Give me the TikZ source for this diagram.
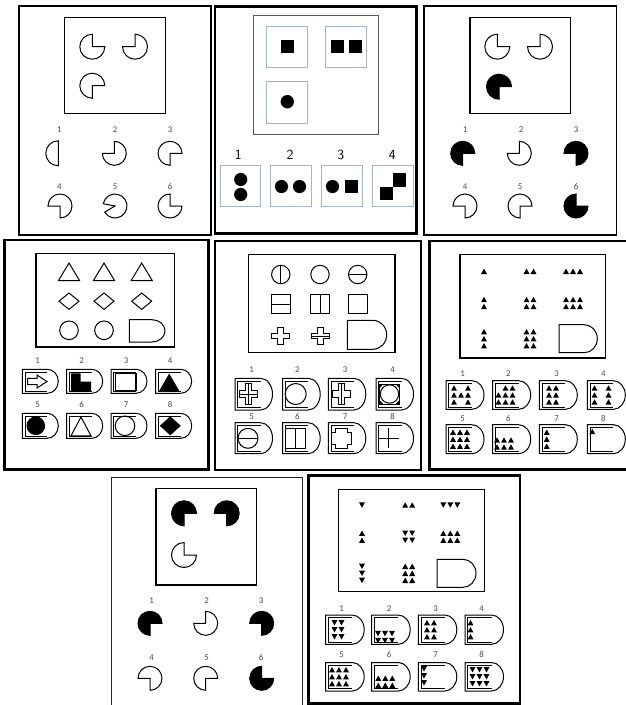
\documentclass[tikz,border=0pt]{standalone}
\usepackage{fontspec}
\setmainfont{Carlito}
\usetikzlibrary{calc}
\definecolor{numgray}{RGB}{80,72,64}
\definecolor{boxblue}{RGB}{160,180,205}
\tikzset{
 panelthin/.style={draw=black, line width=1.5pt},
 panelthick/.style={draw=black, line width=2.7pt},
 matbox/.style={draw=black, line width=1.3pt},
 shp/.style={draw=black, line width=1pt, line join=miter},
 num/.style={font=\fontsize{8.8}{10}\selectfont, text=numgray, inner sep=0pt},
 bignum/.style={font=\fontsize{14}{16}\selectfont\sffamily, inner sep=0pt},
 bluebox/.style={draw=boxblue, line width=0.9pt},
}
% quarter-missing circle: x y r startangle fill
\newcommand\pq[5]{\filldraw[shp,fill=#5] (#1,-#2) -- ++(#4:#3) arc[start angle=#4, delta angle=270, radius=#3] -- cycle;}
% D shape: x1 y1 x2 y2 rx
\newcommand\Dsh[5]{\draw[shp] (#1,-#2) -- ({#3-#5},-#2) arc[start angle=90, end angle=-90, x radius=#5, y radius={(#4-#2)/2}] -- (#1,-#4) -- cycle;}
\newcommand\Dans[5]{\Dsh{#1}{#2}{#3}{#4}{#5}
 \draw[line width=0.6pt] ({#3-#5},{-#2-2.5}) -- ({#1+2.5},{-#2-2.5}) -- ({#1+2.5},{-#4+2.5}) -- ({#3-#5},{-#4+2.5});}
% small triangle: x y dir
\newcommand\tri[3]{\fill ({(#1)-3},{-(#2)-2.7*(#3)}) -- ({(#1)+3},{-(#2)-2.7*(#3)}) -- ({#1},{-(#2)+2.7*(#3)}) -- cycle;}
\newcommand\tgrid[5]{\foreach \ii in {1,...,#3}{\foreach \jj in {1,...,#4}{\tri{#1+(\ii-(#3+1)/2)*7}{#2+(\jj-(#4+1)/2)*7}{#5}}}}
\newcommand\bsq[3]{\fill ({(#1)-(#3)/2},{-(#2)+(#3)/2}) rectangle ({(#1)+(#3)/2},{-(#2)-(#3)/2});}
\newcommand\osq[3]{\draw[shp] ({(#1)-(#3)/2},{-(#2)+(#3)/2}) rectangle ({(#1)+(#3)/2},{-(#2)-(#3)/2});}
\newcommand\crossO[4]{\begin{scope}[shift={(#1,-#2)}]\draw[shp] ({-#3/3},{-#4}) -- ({#3/3},{-#4}) -- ({#3/3},{-#4/3}) -- (#3,{-#4/3}) -- (#3,{#4/3}) -- ({#3/3},{#4/3}) -- ({#3/3},#4) -- ({-#3/3},#4) -- ({-#3/3},{#4/3}) -- (-#3,{#4/3}) -- (-#3,{-#4/3}) -- ({-#3/3},{-#4/3}) -- cycle;\end{scope}}
\begin{document}
\begin{tikzpicture}[x=1pt,y=1pt]
\useasboundingbox (0,0) rectangle (626,-705);
\fill[white] (0,0) rectangle (626,-705);

% ================= Panel 1
\draw[panelthin] (19,-6) rectangle (211,-235);
\draw[matbox] (64.3,-17.3) rectangle (165.7,-113.3);
\pq{92.3}{46.7}{12.5}{90}{white}
\pq{135}{46.7}{12.5}{180}{white}
\pq{92.3}{85.7}{12.5}{0}{white}
\foreach \t/\x/\y in {1/59.3/130,2/115/130,3/170/130,4/59.3/186.7,5/115/186.7,6/170/186.7}
  \node[num] (p1n\t) at (\x,-\y) {\t};
\draw[shp] (58.3,-140.8) arc[start angle=90, end angle=270, radius=12.5] -- cycle;
\pq{114.3}{153.3}{12}{180}{white}
\pq{170}{153.3}{12}{0}{white}
\pq{60}{206}{12}{270}{white}
\filldraw[shp,fill=white] (115,-206) -- ++(211:12) arc[start angle=211, delta angle=318, radius=12] -- cycle;
\pq{170}{206}{12}{90}{white}

% ================= Panel 2
\draw[panelthick] (215,-6.2) rectangle (416.7,-233.7);
\draw[draw=black!65, line width=1pt] (253.3,-15) rectangle (378.3,-134.3);
\draw[bluebox] (266.7,-26) rectangle (307.7,-67.7);
\draw[bluebox] (325,-26) rectangle (366.7,-67.7);
\draw[bluebox] (266.7,-81.7) rectangle (307.7,-123.3);
\bsq{287.3}{46.7}{13}
\bsq{337.7}{46.7}{13}
\bsq{355.7}{46.7}{13}
\fill (287.3,-101.7) circle[radius=6.7];
\foreach \t/\x in {1/238.3,2/290,3/340.7,4/392.3}
  \node[bignum] (p2n\t) at (\x,-155) {\t};
\draw[bluebox] (220,-165.7) rectangle (260.7,-206.7);
\draw[bluebox] (270.7,-165.7) rectangle (311.7,-206.7);
\draw[bluebox] (321.7,-165.7) rectangle (362.7,-206.7);
\draw[bluebox] (372.7,-165.7) rectangle (413.3,-206.7);
\fill (240.7,-179.5) circle[radius=6.6];
\fill (240.7,-194.5) circle[radius=6.6];
\fill (281.5,-186.5) circle[radius=6.6];
\fill (299.5,-186.5) circle[radius=6.6];
\fill (332.5,-186.5) circle[radius=6.6];
\bsq{351.7}{186.5}{13}
\bsq{399.7}{180}{13.4}
\bsq{386.3}{193.4}{13.4}

% ================= Panel 3
\draw[panelthin] (424,-6) rectangle (616.7,-235);
\draw[matbox] (470,-17.3) rectangle (570.7,-113.3);
\pq{497.3}{46.7}{12.5}{90}{white}
\pq{540}{46.7}{12.5}{180}{white}
\pq{499}{86.7}{12.5}{0}{black}
\foreach \t/\x/\y in {1/465.3/130,2/521/130,3/576/130,4/465/186.7,5/520/186.7,6/576/186.7}
  \node[num] (p3n\t) at (\x,-\y) {\t};
\pq{462.7}{153.3}{12}{0}{black}
\pq{519.3}{153.3}{12}{180}{white}
\pq{576}{153.3}{12}{270}{black}
\pq{465}{206}{12}{270}{white}
\pq{520}{206}{12}{0}{white}
\pq{576}{206}{12}{90}{black}

% ================= Panel 4
\draw[panelthick] (4.7,-240) rectangle (208.7,-469.3);
\draw[matbox] (36,-253.7) rectangle (174.3,-347);
\foreach \x in {69,104,141.7}{
  \draw[shp] ({\x-10.5},-280.5) -- ({\x+10.5},-280.5) -- (\x,-263) -- cycle;
  \draw[shp] ({\x-10},-301.2) -- (\x,-293) -- ({\x+10},-301.2) -- (\x,-309.4) -- cycle;}
\draw[shp] (69,-330.3) circle[radius=9.3];
\draw[shp] (104,-330.3) circle[radius=9.3];
\Dsh{129.3}{319.7}{165}{342}{13}
\foreach \t/\x/\y in {1/37.7/361,2/81.7/361,3/126/361,4/170/361,5/37.7/405,6/81.7/405,7/126/405,8/170/405}
  \node[num] (p4n\t) at (\x,-\y) {\t};
\foreach \x in {22.3,66.7,111,155.7}{
  \Dans{\x}{369.3}{\x+36}{393.3}{11}
  \Dans{\x}{413.3}{\x+36}{438.3}{11}}
\draw[shp] (27.5,-378.3) -- (37,-378.3) -- (37,-375) -- (47,-381.5) -- (37,-388) -- (37,-384.7) -- (27.5,-384.7) -- cycle;
\fill (71,-373.3) -- (80.5,-373.3) -- (80.5,-381.7) -- (91,-381.7) -- (91,-391.3) -- (71,-391.3) -- cycle;
\draw[shp, line width=1.2pt] (115.5,-373.8) rectangle (136,-390.8);
\fill (159,-391.3) -- (179.5,-391.3) -- (169.2,-373.5) -- cycle;
\fill (35.8,-425.8) circle[radius=9.3];
\draw[shp] (71,-435.8) -- (91,-435.8) -- (81,-417) -- cycle;
\draw[shp] (125,-425.8) circle[radius=9.8];
\fill (170.3,-416.3) -- (180.8,-425.8) -- (170.3,-435.3) -- (159.8,-425.8) -- cycle;

% ================= Panel 5
\draw[panelthick, line width=2.4pt] (214.7,-240.7) rectangle (420.7,-470);
\draw[matbox] (248.3,-254.7) rectangle (395,-352.7);
\draw[shp] (280.8,-274.5) circle[radius=9.2];
\draw[shp] (280.8,-265.3) -- (280.8,-283.7);
\draw[shp] (320,-274.5) circle[radius=9.2];
\draw[shp] (357.7,-274.5) circle[radius=9.2];
\draw[shp] (348.5,-274.5) -- (366.9,-274.5);
\osq{280.8}{304.2}{18.7}
\draw[shp] (271.45,-304.2) -- (290.15,-304.2);
\osq{320}{304.2}{18.7}
\draw[shp] (320,-294.85) -- (320,-313.55);
\osq{357.7}{304.2}{18.7}
\crossO{280.8}{336}{9}{8.5}
\crossO{320}{336}{9}{8.5}
\draw[shp] (311,-336) -- (329,-336);
\Dsh{347.3}{320.3}{386.7}{349.3}{14}
\foreach \t/\x/\y in {1/251.7/369.3,2/297.3/369.3,3/345/369.3,4/392.7/369.3,5/251.7/416.3,6/297.3/416.3,7/345/416.3,8/392.7/416.3}
  \node[num] (p5n\t) at (\x,-\y) {\t};
\foreach \x in {235,282.7,328.3,376}{
  \Dans{\x}{378.3}{\x+37.5}{410}{12}
  \Dans{\x}{422.7}{\x+37.5}{453.7}{12}}
\crossO{248}{394}{9}{10.5}
\draw[shp] (248,-383.5) -- (248,-404.5);
\draw[shp] (239,-394) -- (257,-394);
\draw[shp] (295.7,-394) circle[radius=10.5];
\crossO{341.3}{394}{9}{10.5}
\draw[shp] (341.3,-383.5) -- (341.3,-404.5);
\osq{389.5}{394}{20}
\draw[shp] (389.5,-394) circle[radius=9.2];
\fill (379.5,-384) -- (383.5,-384) -- (379.5,-388) -- cycle;
\fill (399.5,-384) -- (395.5,-384) -- (399.5,-388) -- cycle;
\fill (379.5,-404) -- (383.5,-404) -- (379.5,-400) -- cycle;
\fill (399.5,-404) -- (395.5,-404) -- (399.5,-400) -- cycle;
\draw[shp] (248,-438.3) circle[radius=10];
\draw[shp] (238,-438.3) -- (258,-438.3);
\osq{295.5}{438.3}{20}
\draw[shp] (295.5,-428.3) -- (295.5,-448.3);
\begin{scope}[shift={(341.7,-438.3)}]
\draw[shp] (-6,10) -- (6,10) -- (6,6) -- (10,6) -- (10,-6) -- (6,-6) -- (6,-10) -- (-6,-10) -- (-6,-6) -- (-10,-6) -- (-10,6) -- (-6,6) -- cycle;
\end{scope}
\draw[shp] (378.5,-438.3) -- (398.5,-438.3);
\draw[shp] (388.5,-428.3) -- (388.5,-448.3);

% ================= Panel 6
\draw[panelthick, line width=2.4pt] (429.3,-240.7) rectangle (628,-469.3);
\draw[matbox] (460,-254.7) rectangle (605.7,-358);
\tgrid{484}{271.3}{1}{1}{1}
\tgrid{530}{271.3}{2}{1}{1}
\tgrid{573}{271.3}{3}{1}{1}
\tgrid{484}{303}{1}{2}{1}
\tgrid{530}{303}{2}{2}{1}
\tgrid{573}{303}{3}{2}{1}
\tgrid{484}{338.7}{1}{3}{1}
\tgrid{530}{338.7}{2}{3}{1}
\Dsh{559}{324.7}{597.3}{352.7}{13}
\foreach \t/\x/\y in {1/462.7/373.3,2/508.3/373.3,3/556.7/373.3,4/603.3/373.3,5/462.7/418.7,6/508.3/418.7,7/556.7/418.7,8/603.3/418.7}
  \node[num] (p6n\t) at (\x,-\y) {\t};
\foreach \x in {446,492.7,539.3,587.3}{
  \Dans{\x}{380.7}{\x+38}{409.3}{12}
  \Dans{\x}{424.7}{\x+38}{453.7}{12}}
\foreach \a/\b in {454/388,468/388,454/395,461/395,468/395,454/402,468/402} {\tri{\a}{\b}{1}}
\foreach \a/\b in {505.5/388,512.5/388,498.5/395,505.5/395,512.5/395,498.5/402,505.5/402,512.5/402} {\tri{\a}{\b}{1}}
\tgrid{552.5}{395}{2}{3}{1}
\tgrid{594.5}{395}{1}{3}{1}
\tgrid{608.5}{395}{1}{3}{1}
\tgrid{460}{439.2}{3}{3}{1}
\tgrid{504}{443.5}{3}{2}{1}
\tgrid{546.7}{439.2}{1}{3}{1}
\tri{592.3}{431.5}{1}

% ================= Panel 7
\draw[draw=black!85, line width=1.3pt] (111.2,-477.8) rectangle (302.8,-708);
\draw[matbox] (156,-488.3) rectangle (256.7,-585);
\pq{184}{513.3}{12.5}{0}{black}
\pq{226.7}{513.3}{12.5}{270}{black}
\pq{184}{555}{12.5}{90}{white}
\foreach \t/\x/\y in {1/151.7/600.7,2/206.7/600.7,3/261/600.7,4/151.7/657.3,5/206.7/657.3,6/261/657.3}
  \node[num] (p7n\t) at (\x,-\y) {\t};
\pq{150}{623.3}{12}{0}{black}
\pq{205.7}{623.3}{12}{180}{white}
\pq{261.7}{623.3}{12}{270}{black}
\pq{150}{678.3}{12}{270}{white}
\pq{205.7}{678.3}{12}{0}{white}
\pq{261.7}{678.3}{12}{90}{black}

% ================= Panel 8
\draw[panelthick] (308.2,-475.3) rectangle (520,-703.3);
\draw[matbox] (338.7,-489.3) rectangle (484.7,-591.7);
\tgrid{362}{505}{1}{1}{-1}
\tgrid{408.7}{505}{2}{1}{1}
\tgrid{450.3}{505}{3}{1}{-1}
\tgrid{362}{536.7}{1}{2}{1}
\tgrid{408.7}{536.7}{2}{2}{-1}
\tgrid{450.3}{536.7}{3}{2}{1}
\tgrid{362}{573.3}{1}{3}{-1}
\tgrid{408.7}{573.3}{2}{3}{1}
\Dsh{437}{559.3}{476}{587.3}{13}
\foreach \t/\x/\y in {1/341.7/608.3,2/389/608.3,3/435.7/608.3,4/481.7/608.3,5/341.7/655,6/389/655,7/435.7/655,8/481.7/655}
  \node[num] (p8n\t) at (\x,-\y) {\t};
\foreach \x in {325.7,371.7,418.3,465}{
  \Dans{\x}{615}{\x+38.5}{644.3}{12}
  \Dans{\x}{662.5}{\x+38.5}{691}{12}}
\tgrid{338}{629.7}{2}{3}{-1}
\tgrid{385}{637}{3}{2}{-1}
\tgrid{430.5}{629.7}{2}{3}{1}
\tgrid{470.5}{629.7}{1}{3}{1}
\tgrid{339}{676.7}{3}{3}{1}
\tgrid{385.3}{681.7}{3}{2}{1}
\tgrid{424}{675.8}{1}{3}{-1}
\tgrid{479.5}{676.7}{3}{3}{-1}
\end{tikzpicture}
\end{document}
